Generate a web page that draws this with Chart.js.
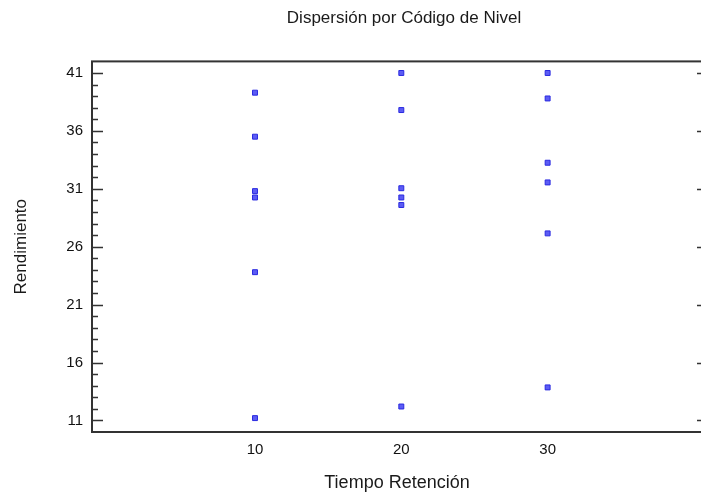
<!DOCTYPE html>
<html>
<head>
<meta charset="utf-8">
<script src="https://cdn.jsdelivr.net/npm/chart.js@4.4.0/dist/chart.umd.min.js"></script>
<style>
    html, body { margin: 0; padding: 0; background: #fff; overflow: hidden; }
    .chart-box { width: 808px; height: 495px; }
</style>
</head>
<body>
<div class="chart-box"><canvas id="myChart"></canvas></div>
<script>
// niveles de Tiempo Retención y su rendimiento
const tiempos = [10, 20, 30];
const rend10 = [39.3, 35.5, 30.8, 30.25, 23.8, 11.2];
const rend20 = [41.0, 37.8, 31.05, 30.25, 29.6, 12.2];
const rend30 = [41.0, 38.8, 33.25, 31.55, 27.15, 13.85];
const yTicks = [11, 16, 21, 26, 31, 36, 41];
const xTicks = [10, 20, 30];

const puntos = [];
[rend10, rend20, rend30].forEach((serie, i) => {
    serie.forEach(v => puntos.push({ x: tiempos[i], y: v }));
});

const fontFamily = "'Liberation Sans', Arial, sans-serif";

// marco y marcas hacia adentro (estilo Statgraphics)
const marcoPlugin = {
    id: 'marco',
    beforeDatasetsDraw(chart) {
        const { ctx, chartArea: a, scales: { y } } = chart;
        ctx.save();
        ctx.strokeStyle = '#333';
        ctx.lineWidth = 2;
        ctx.strokeRect(a.left, a.top, a.right - a.left, a.bottom - a.top);
        ctx.lineWidth = 1.6;
        ctx.beginPath();
        for (let v = 11; v <= 41; v++) {
            const py = Math.round(y.getPixelForValue(v)) + 0.5;
            const major = yTicks.includes(v);
            ctx.moveTo(a.left, py);
            ctx.lineTo(a.left + (major ? 11 : 6), py);
            if (major) {
                ctx.moveTo(a.right, py);
                ctx.lineTo(a.right - 5, py);
            }
        }
        ctx.stroke();
        ctx.restore();
    }
};

new Chart(document.getElementById('myChart'), {
    type: 'scatter',
    data: {
        datasets: [{
            label: 'Rendimiento',
            data: puntos,
            pointStyle: 'rect',
            pointRadius: 3.5,
            pointHoverRadius: 3.5,
            borderWidth: 1,
            borderColor: '#2a2ae0',
            backgroundColor: '#5c5cf4',
        }]
    },
    options: {
        responsive: true,
        maintainAspectRatio: false,
        animation: false,
        devicePixelRatio: 1,
        layout: { padding: 0 },
        plugins: {
            legend: { display: false },
            tooltip: { enabled: false },
            title: {
                display: true,
                text: 'Dispersión por Código de Nivel',
                color: '#1a1a1a',
                font: { family: fontFamily, size: 17, weight: 'normal' },
                padding: { top: 8, bottom: 33 }
            }
        },
        scales: {
            x: {
                type: 'linear',
                min: -1.14,
                max: 40.55,
                grid: { display: false, drawTicks: false },
                border: { display: false },
                afterBuildTicks: (s) => { s.ticks = xTicks.map(v => ({ value: v })); },
                afterFit: (s) => { s.height = 63; },
                ticks: {
                    color: '#111',
                    padding: 9,
                    maxRotation: 0,
                    font: { family: fontFamily, size: 15 }
                },
                title: {
                    display: true,
                    text: 'Tiempo Retención',
                    color: '#1a1a1a',
                    font: { family: fontFamily, size: 18 },
                    padding: { top: 0, bottom: 1 }
                }
            },
            y: {
                type: 'linear',
                min: 10,
                max: 42,
                grid: { display: false, drawTicks: false },
                border: { display: false },
                afterBuildTicks: (s) => { s.ticks = yTicks.map(v => ({ value: v })); },
                afterFit: (s) => { s.width = 92; },
                ticks: {
                    color: '#111',
                    padding: 9,
                    font: { family: fontFamily, size: 15 }
                },
                title: {
                    display: true,
                    text: 'Rendimiento',
                    color: '#1a1a1a',
                    font: { family: fontFamily, size: 17 },
                    padding: { top: 11, bottom: 0 }
                }
            },
            // eje vacío a la derecha: deja el área del gráfico hasta x=702
            derecha: {
                type: 'linear',
                position: 'right',
                min: 0,
                max: 1,
                grid: { display: false, drawTicks: false },
                border: { display: false },
                ticks: { display: false },
                afterFit: (s) => { s.width = 106; }
            }
        }
    },
    plugins: [marcoPlugin]
});
</script>
</body>
</html>
